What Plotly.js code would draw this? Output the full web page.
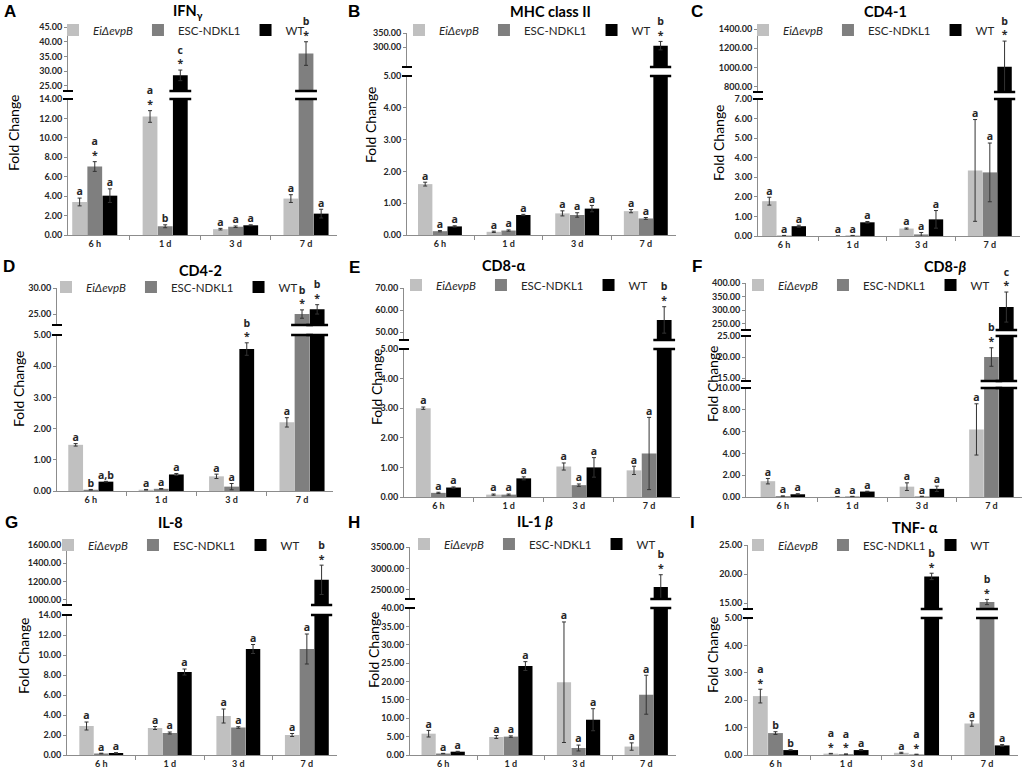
<!DOCTYPE html>
<html>
<head>
<meta charset="utf-8">
<script src="https://cdn.plot.ly/plotly-3.0.1.min.js"></script>
<style>body{margin:0;background:#fff}#chart{width:1030px;height:773px}</style>
</head>
<body>
<div id="chart"></div>
<script>
var timepoints = ['6 h', '1 d', '3 d', '7 d'];
var groups = ['<i>EiΔevpB</i>', 'ESC-NDKL1', 'WT'];
var groupColors = ['#c0c0c0', '#7f7f7f', '#000000'];

var panelLetters = ['A', 'B', 'C', 'D', 'E', 'F', 'G', 'H', 'I'];
var panelTitles = ['IFN<sub>γ</sub>', 'MHC class II', 'CD4-1', 'CD4-2', 'CD8-α',
                   'CD8-<i>β</i>', 'IL-8', 'IL-1 <i>β</i>', 'TNF- α'];

// fold change per group [EiΔevpB, ESC-NDKL1, WT] at 6 h, 1 d, 3 d, 7 d
var ifnMean = [[3.4, 12.2, 0.6, 3.75], [7.05, 0.9, 0.85, 36.0], [4.05, 28.6, 1.0, 2.2]];
var ifnErr = [[0.4, 0.6, 0.08, 0.4], [0.5, 0.15, 0.08, 4.0], [0.7, 1.8, 0.05, 0.45]];
var ifnSig = [['a', 'a<br>*', 'a', 'a'], ['a<br>*', 'b', 'a', 'b<br>*'], ['a', 'c<br>*', 'a', 'a']];

var mhcMean = [[1.6, 0.1, 0.68, 0.75], [0.12, 0.14, 0.63, 0.52], [0.27, 0.63, 0.83, 305]];
var mhcErr = [[0.06, 0.02, 0.08, 0.05], [0.02, 0.02, 0.07, 0.03], [0.02, 0.02, 0.1, 15]];
var mhcSig = [['a', 'a', 'a', 'a'], ['a', 'a', 'a', 'a'], ['a', 'a', 'a', 'b<br>*']];

var cd41Mean = [[1.78, 0.0, 0.38, 3.35], [0.02, 0.02, 0.08, 3.25], [0.5, 0.7, 0.85, 1010]];
var cd41Err = [[0.2, 0, 0.03, 2.6], [0.01, 0.01, 0.1, 1.5], [0.05, 0.04, 0.45, 265]];
var cd41Sig = [['a', 'a', 'a', 'a'], ['a', 'a', 'a', 'a'], ['a', 'a', 'a', 'b<br>*']];

var cd42Mean = [[1.48, 0.04, 0.47, 2.2], [0.04, 0.07, 0.14, 25.0], [0.3, 0.53, 4.55, 25.9]];
var cd42Err = [[0.04, 0.01, 0.07, 0.15], [0.01, 0.01, 0.1, 0.8], [0.01, 0.03, 0.2, 0.9]];
var cd42Sig = [['a', 'a', 'a', 'a'], ['b', 'a', 'a', 'b<br>*'], ['a,b', 'a', 'b<br>*', 'b<br>*']];

var cd8aMean = [[3.0, 0.08, 1.03, 0.9], [0.14, 0.08, 0.4, 1.47], [0.32, 0.63, 1.0, 55.5]];
var cd8aErr = [[0.04, 0.02, 0.12, 0.14], [0.02, 0.02, 0.04, 1.22], [0.02, 0.05, 0.33, 6]];
var cd8aSig = [['a', 'a', 'a', 'a'], ['a', 'a', 'a', 'a'], ['a', 'a', 'a', 'b<br>*']];

var cd8bMean = [[1.45, 0.02, 0.95, 6.2], [0.08, 0.05, 0.05, 20.0], [0.25, 0.5, 0.75, 312]];
var cd8bErr = [[0.25, 0.01, 0.35, 2.35], [0.02, 0.01, 0.02, 2.2], [0.05, 0.03, 0.25, 55]];
var cd8bSig = [['a', 'a', 'a', 'a'], ['a', 'a', 'a', 'b<br>*'], ['a', 'a', 'a', 'c<br>*']];

var il8Mean = [[2.9, 2.7, 3.9, 2.0], [0.15, 2.2, 2.75, 10.6], [0.2, 8.3, 10.6, 1220]];
var il8Err = [[0.4, 0.15, 0.7, 0.15], [0.03, 0.1, 0.08, 1.5], [0.03, 0.3, 0.45, 160]];
var il8Sig = [['a', 'a', 'a', 'a'], ['a', 'a', 'a', 'a'], ['a', 'a', 'a', 'b<br>*']];

var il1bMean = [[5.8, 4.9, 19.8, 2.3], [0.4, 5.0, 1.9, 16.4], [0.9, 24.2, 9.6, 2570]];
var il1bErr = [[0.9, 0.4, 16.4, 1.0], [0.05, 0.2, 0.8, 5.3], [0.1, 1.2, 3.0, 285]];
var il1bSig = [['a', 'a', 'a', 'a'], ['a', 'a', 'a', 'a'], ['a', 'a', 'a', 'b<br>*']];

var tnfMean = [[2.15, 0.05, 0.08, 1.15], [0.8, 0.03, 0.02, 15.2], [0.18, 0.18, 19.6, 0.35]];
var tnfErr = [[0.25, 0.01, 0.02, 0.1], [0.05, 0.01, 0.01, 0.45], [0.01, 0.02, 0.55, 0.03]];
var tnfSig = [['a<br>*', 'a<br>*', 'a', 'a'], ['b', 'a<br>*', 'a<br>*', 'b<br>*'], ['b', 'a', 'b<br>*', 'a']];

var panelData = [
  [ifnMean, ifnErr, ifnSig], [mhcMean, mhcErr, mhcSig], [cd41Mean, cd41Err, cd41Sig],
  [cd42Mean, cd42Err, cd42Sig], [cd8aMean, cd8aErr, cd8aSig], [cd8bMean, cd8bErr, cd8bSig],
  [il8Mean, il8Err, il8Sig], [il1bMean, il1bErr, il1bSig], [tnfMean, tnfErr, tnfSig]
];

// layout of each panel in page pixels; segs go bottom -> top of the broken axis
var boxes = [
  {left: 68, right: 337, xlo: -0.38, title: [188, 12], letter: [10, 12], legend: [75, 30], ylab: [14, 133],
   segs: [{bot: 235, top: 99, range: [0, 14], dtick: 2}, {bot: 91, top: 27, range: [23.3, 45], dtick: 5}]},
  {left: 407, right: 676, xlo: -0.48, title: [550, 12], letter: [354, 12], legend: [421, 30], ylab: [371, 125],
   segs: [{bot: 235, top: 76, range: [0, 5], dtick: 1}, {bot: 67, top: 33, range: [229, 350], dtick: 50, tmin: 300}]},
  {left: 758, right: 1020, xlo: -0.38, title: [885, 12], letter: [697, 12], legend: [765, 30], ylab: [718, 143],
   segs: [{bot: 236, top: 99, range: [0, 7], dtick: 1}, {bot: 92, top: 29, range: [748, 1400], dtick: 200}]},
  {left: 57, right: 333, xlo: -0.48, title: [200, 270], letter: [9, 267], legend: [68, 287], ylab: [18, 389],
   segs: [{bot: 491, top: 335, range: [0, 5], dtick: 1}, {bot: 325, top: 288, range: [22.9, 30], dtick: 5}]},
  {left: 404, right: 680, xlo: -0.49, title: [503, 266], letter: [354, 268], legend: [418, 285], ylab: [376, 387],
   segs: [{bot: 497, top: 349, range: [0, 5], dtick: 1}, {bot: 340, top: 288, range: [46.4, 70], dtick: 10}]},
  {left: 746, right: 1022, xlo: -0.53, title: [945, 267], letter: [697, 267], legend: [760, 285], ylab: [713, 384],
   segs: [{bot: 497, top: 388, range: [0, 10], dtick: 2}, {bot: 381, top: 336, range: [14.3, 25], dtick: 5},
          {bot: 330, top: 283, range: [228, 400], dtick: 50}]},
  {left: 67, right: 337, xlo: -0.5, title: [170, 522], letter: [11, 522], legend: [70, 545], ylab: [23, 656],
   segs: [{bot: 755, top: 615, range: [0, 14], dtick: 2}, {bot: 605, top: 545, range: [945, 1600], dtick: 200}]},
  {left: 410, right: 676, xlo: -0.49, title: [535, 521], letter: [354, 522], legend: [426, 544], ylab: [373, 650],
   segs: [{bot: 755, top: 608, range: [0, 40], dtick: 5}, {bot: 599, top: 547, range: [2290, 3500], dtick: 500}]},
  {left: 748, right: 1018, xlo: -0.39, title: [915, 527], letter: [692, 522], legend: [760, 545], ylab: [712, 655],
   segs: [{bot: 755, top: 618, range: [0, 5], dtick: 1}, {bot: 609, top: 545, range: [14, 25], dtick: 5}]}
];

var W = 1030, H = 773;
var barW = 0.21, barStep = 0.215;
var axisGray = '#8c8c8c';
var tickFont = {family: 'Lato', size: 9, color: '#262626', weight: 'bold'};

function px(x) { return x / W; }
function py(y) { return 1 - y / H; }

var traces = [];
var shapes = [];
var annotations = [];
var layout = {
  width: W, height: H,
  margin: {l: 0, r: 0, t: 0, b: 0},
  paper_bgcolor: '#fff', plot_bgcolor: 'rgba(0,0,0,0)',
  barmode: 'overlay',
  showlegend: true
};

var yCount = 0;
for (var i = 0; i < boxes.length; i++) {
  var b = boxes[i];
  var mean = panelData[i][0], err = panelData[i][1], sig = panelData[i][2];
  var xid = i === 0 ? 'x' : 'x' + (i + 1);
  var legendId = i === 0 ? 'legend' : 'legend' + (i + 1);
  var yids = [];

  for (var k = 0; k < b.segs.length; k++) {
    var s = b.segs[k];
    yCount++;
    var yid = yCount === 1 ? 'y' : 'y' + yCount;
    yids.push(yid);
    var tv = [];
    for (var t = Math.ceil(s.range[0] / s.dtick - 1e-9) * s.dtick; t <= s.range[1] + 1e-9; t += s.dtick) {
      if (s.tmin === undefined || t >= s.tmin) tv.push(t);
    }
    layout[yCount === 1 ? 'yaxis' : 'yaxis' + yCount] = {
      domain: [py(s.bot), py(s.top)], range: s.range, anchor: xid,
      tickvals: tv, tickformat: '.2f', tickfont: tickFont,
      showline: true, linecolor: axisGray, linewidth: 1,
      ticks: 'outside', ticklen: 3, tickcolor: axisGray,
      showgrid: false, zeroline: false, fixedrange: true
    };
  }

  layout[i === 0 ? 'xaxis' : 'xaxis' + (i + 1)] = {
    domain: [px(b.left), px(b.right)], range: [b.xlo, 3.44], anchor: yids[0],
    tickvals: [0, 1, 2, 3], ticktext: timepoints, tickfont: tickFont,
    showline: true, linecolor: axisGray, linewidth: 1, ticks: '',
    minor: {tickvals: [0.5, 1.5, 2.5], ticks: 'outside', ticklen: 4, tickcolor: axisGray},
    showgrid: false, zeroline: false, fixedrange: true
  };

  function segOf(v) {
    for (var q = 0; q < b.segs.length; q++) if (v <= b.segs[q].range[1]) return q;
    return b.segs.length - 1;
  }

  var textPts = b.segs.map(function () { return {x: [], y: [], text: []}; });

  for (var g = 0; g < 3; g++) {
    var xs = timepoints.map(function (_, j) { return j + (g - 1) * barStep; });
    for (var k2 = 0; k2 < b.segs.length; k2++) {
      traces.push({
        type: 'bar', x: xs, y: mean[g], width: barW,
        name: groups[g], legend: legendId, showlegend: k2 === 0,
        marker: {color: groupColors[g]},
        error_y: {type: 'data', array: err[g], visible: true, color: '#333', thickness: 1, width: 2},
        xaxis: xid, yaxis: yids[k2], hoverinfo: 'skip'
      });
    }
    for (var j = 0; j < timepoints.length; j++) {
      var sg = segOf(mean[g][j]);
      textPts[sg].x.push(xs[j]);
      textPts[sg].y.push(mean[g][j] + err[g][j]);
      textPts[sg].text.push(sig[g][j]);
      // break marks across a bar that passes a gap
      for (var gap = 0; gap < b.segs.length - 1; gap++) {
        if (mean[g][j] > b.segs[gap].range[1]) {
          [b.segs[gap].top, b.segs[gap + 1].bot].forEach(function (yy) {
            shapes.push({type: 'line', xref: xid, yref: 'paper',
              x0: xs[j] - barW / 2 - 0.05, x1: xs[j] + barW / 2 + 0.05, y0: py(yy), y1: py(yy),
              line: {color: '#000', width: 2.5}});
          });
        }
      }
    }
  }

  for (var k3 = 0; k3 < b.segs.length; k3++) {
    if (!textPts[k3].x.length) continue;
    traces.push({
      type: 'scatter', mode: 'text', x: textPts[k3].x, y: textPts[k3].y, text: textPts[k3].text,
      textposition: 'top center', cliponaxis: false, showlegend: false, hoverinfo: 'skip',
      textfont: {family: 'Open Sans', size: 10.5, color: '#262626', weight: 'bold'},
      xaxis: xid, yaxis: yids[k3]
    });
  }

  // axis break marks
  for (var gp = 0; gp < b.segs.length - 1; gp++) {
    [b.segs[gp].top, b.segs[gp + 1].bot].forEach(function (yy) {
      shapes.push({type: 'line', xref: 'paper', yref: 'paper',
        x0: px(b.left - 5), x1: px(b.left + 5), y0: py(yy), y1: py(yy),
        line: {color: '#000', width: 2}});
    });
  }

  layout[legendId] = {
    x: px(b.legend[0] - 22), y: py(b.legend[1]), xanchor: 'left', yanchor: 'middle',
    orientation: 'h', bgcolor: 'rgba(0,0,0,0)', borderwidth: 0,
    font: {family: 'Lato', size: 11.5, color: '#262626'}, itemclick: false, itemdoubleclick: false
  };

  annotations.push({xref: 'paper', yref: 'paper', x: px(b.letter[0]), y: py(b.letter[1]),
    text: panelLetters[i], showarrow: false, xanchor: 'center', yanchor: 'middle',
    font: {family: 'Liberation Sans', size: 17, color: '#000', weight: 'bold'}});
  annotations.push({xref: 'paper', yref: 'paper', x: px(b.title[0]), y: py(b.title[1]),
    text: panelTitles[i], showarrow: false, xanchor: 'center', yanchor: 'middle',
    font: {family: 'Lato', size: 14.5, color: '#000', weight: 'bold'}});
  annotations.push({xref: 'paper', yref: 'paper', x: px(b.ylab[0]), y: py(b.ylab[1]),
    text: 'Fold Change', showarrow: false, textangle: -90, xanchor: 'center', yanchor: 'middle',
    font: {family: 'Lato', size: 14, color: '#000'}});
}

layout.shapes = shapes;
layout.annotations = annotations;

Plotly.newPlot('chart', traces, layout, {displaylogo: false, displayModeBar: false, staticPlot: true});
</script>
</body>
</html>
